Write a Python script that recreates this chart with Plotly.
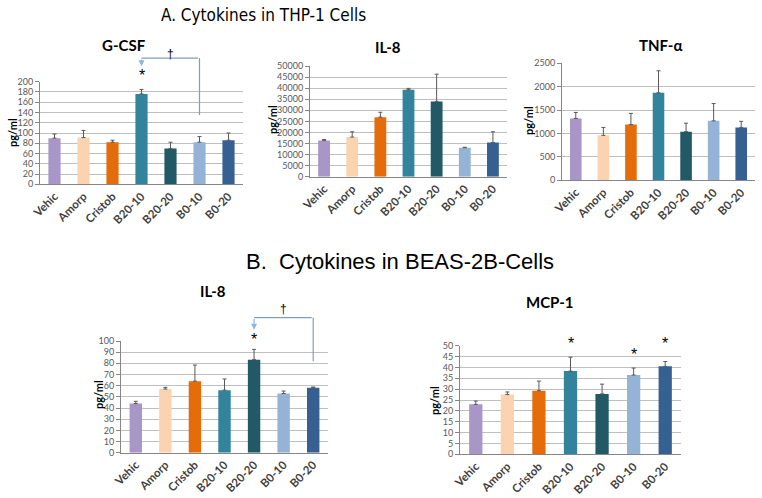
import plotly.graph_objects as go

categories = ["Vehic", "Amorp", "Cristob", "B20-10", "B20-20", "B0-10", "B0-20"]
bar_colors = ["#a897c6", "#fbd3b0", "#e46c0a", "#31849b", "#215967", "#95b3d7", "#376092"]

# THP-1 cells
gcsf = [90, 91, 82, 176, 70, 82, 86]
gcsf_top = [98, 105, 86, 185, 82, 93, 100]
il8_thp = [16300, 17900, 26900, 39300, 34000, 13100, 15400]
il8_thp_top = [16800, 20300, 29100, 39900, 46300, 13300, 20300]
tnf = [1320, 960, 1190, 1870, 1040, 1270, 1130]
tnf_top = [1450, 1130, 1430, 2340, 1220, 1640, 1260]
# BEAS-2B cells
il8_beas = [44, 57, 64, 56, 83.3, 53, 58.2]
il8_beas_top = [46, 58.5, 78.5, 66, 92.5, 55.2, 58.8]
mcp1 = [23, 27.5, 29.3, 38.3, 27.8, 36.5, 40.5]
mcp1_top = [24.5, 28.7, 33.7, 44.7, 32.3, 39.7, 42.7]

W, H = 762, 498

def px_x(v):
    return v / W

def px_y(v):
    return 1 - v / H

panels = [
    dict(name="G-CSF", v=gcsf, t=gcsf_top, ymax=200, dtick=20, xd=(40, 243), yd=(184.3, 81.7), title=(124, 45), ylab=(12, 133)),
    dict(name="IL-8", v=il8_thp, t=il8_thp_top, ymax=50000, dtick=5000, xd=(310, 507), yd=(176.7, 66), title=(388, 47), ylab=(272, 120)),
    dict(name="TNF-α", v=tnf, t=tnf_top, ymax=2500, dtick=500, xd=(562, 755), yd=(180.3, 63.3), title=(660, 45), ylab=(528, 121)),
    dict(name="IL-8", v=il8_beas, t=il8_beas_top, ymax=100, dtick=10, xd=(121, 328), yd=(452.7, 341), title=(213, 291), ylab=(98, 395)),
    dict(name="MCP-1", v=mcp1, t=mcp1_top, ymax=50, dtick=5, xd=(460, 681), yd=(454.3, 345.7), title=(550, 302), ylab=(434, 400)),
]

fig = go.Figure()
annotations = []
lato = "Lato, Carlito, Calibri, sans-serif"
tick_font = dict(family=lato, size=9, color="#595959")
xtick_font = dict(family=lato, size=11.5, color="#3f3f3f", weight="bold")

for i, p in enumerate(panels, start=1):
    sfx = "" if i == 1 else str(i)
    fig.add_trace(go.Bar(
        x=categories, y=p["v"],
        marker=dict(color=bar_colors, line=dict(width=0)),
        width=0.42,
        error_y=dict(type="data", symmetric=False,
                     array=[t - v for t, v in zip(p["t"], p["v"])],
                     arrayminus=[0] * len(p["v"]),
                     color="#595959", thickness=1, width=2),
        xaxis="x" + sfx, yaxis="y" + sfx, showlegend=False,
    ))
    fig.layout["xaxis" + sfx] = dict(
        domain=[px_x(p["xd"][0]), px_x(p["xd"][1])], anchor="y" + sfx,
        type="category", tickangle=-45, tickfont=xtick_font,
        showline=True, linecolor="#868686", linewidth=1, ticks="",
        showgrid=False, fixedrange=True, automargin=False,
    )
    fig.layout["yaxis" + sfx] = dict(
        domain=[px_y(p["yd"][0]), px_y(p["yd"][1])], anchor="x" + sfx,
        range=[0, p["ymax"]], dtick=p["dtick"], tick0=0, tickformat="d",
        tickfont=tick_font, showline=True, linecolor="#868686", linewidth=1,
        ticks="outside", ticklen=4, tickcolor="#868686",
        showgrid=True, gridcolor="#bfbfbf", gridwidth=1, zeroline=False,
        fixedrange=True, automargin=False,
    )
    # invisible taller axis with the same scale, for marks drawn above the plot area
    top_ext = p["yd"][1] - 45
    ext_max = p["ymax"] * (p["yd"][0] - top_ext) / (p["yd"][0] - p["yd"][1])
    fig.layout["yaxis" + str(10 + i)] = dict(
        domain=[px_y(p["yd"][0]), px_y(top_ext)], anchor="x" + sfx,
        range=[0, ext_max], visible=False, fixedrange=True, automargin=False,
        showgrid=False, zeroline=False,
    )
    annotations.append(dict(
        text="<b>%s</b>" % p["name"], xref="paper", yref="paper",
        x=px_x(p["title"][0]), y=px_y(p["title"][1]), showarrow=False,
        xanchor="center", yanchor="middle",
        font=dict(family=lato, size=15, color="#000000"),
    ))
    annotations.append(dict(
        text="<b>pg/ml</b>", xref="paper", yref="paper", textangle=-90,
        x=px_x(p["ylab"][0]), y=px_y(p["ylab"][1]), showarrow=False,
        xanchor="center", yanchor="middle",
        font=dict(family=lato, size=11, color="#000000"),
    ))

# main titles
annotations.append(dict(
    text="A. Cytokines in THP-1 Cells", xref="paper", yref="paper",
    x=px_x(263), y=px_y(15), showarrow=False, xanchor="center", yanchor="middle",
    font=dict(family="Liberation Sans Narrow, DejaVu Sans Condensed, Liberation Sans, sans-serif",
              size=17, color="#000000"),
))
annotations.append(dict(
    text="B.  Cytokines in BEAS-2B-Cells", xref="paper", yref="paper",
    x=px_x(400), y=px_y(261), showarrow=False, xanchor="center", yanchor="middle",
    font=dict(family="Liberation Sans, Arial, sans-serif", size=22, color="#000000"),
))

line_col = "#7f9fbf"
arrow_col = "#8eb4e3"
star_font = dict(family="Liberation Sans, Arial, sans-serif", size=16, color="#000000")
dag_font = dict(family="Liberation Sans, Arial, sans-serif", size=12, color="#000000")

def bracket(i, x_from, x_to, y_low, y_top, y_arrow, dag_x, dag_y):
    xr = "x" if i == 1 else "x" + str(i)
    yr = "y" + str(10 + i)
    ci_from = categories.index(x_from)
    ci_to = categories.index(x_to)
    annotations.append(dict(x=ci_from, y=y_top, ax=ci_from, ay=y_low, xref=xr, yref=yr,
                            axref=xr, ayref=yr, showarrow=True, arrowhead=0,
                            arrowwidth=1.2, arrowcolor=line_col, text=""))
    annotations.append(dict(x=ci_to, y=y_top, ax=ci_from, ay=y_top, xref=xr, yref=yr,
                            axref=xr, ayref=yr, showarrow=True, arrowhead=0,
                            arrowwidth=1.2, arrowcolor=line_col, text=""))
    annotations.append(dict(x=ci_to, y=y_arrow, ax=ci_to, ay=y_top, xref=xr, yref=yr,
                            axref=xr, ayref=yr, showarrow=True, arrowhead=2,
                            arrowsize=1, arrowwidth=1.2, arrowcolor=arrow_col, text=""))
    annotations.append(dict(x=categories.index(dag_x), y=dag_y, xref=xr, yref=yr,
                            text="†", showarrow=False, font=dag_font))

def star(i, cat, y):
    xr = "x" if i == 1 else "x" + str(i)
    annotations.append(dict(x=categories.index(cat), y=y, xref=xr, yref="y" + str(10 + i),
                            text="*", showarrow=False, font=star_font, yanchor="middle"))

bracket(1, "B0-10", "B20-10", 132, 246, 230, "B20-20", 254)
star(1, "B20-10", 212)
bracket(4, "B0-20", "B20-20", 80.6, 121, 110, "B0-10", 129)
star(4, "B20-20", 101)
star(5, "B20-10", 51)
star(5, "B0-10", 46)
star(5, "B0-20", 51)

fig.update_layout(
    width=W, height=H, margin=dict(l=0, r=0, t=0, b=0),
    paper_bgcolor="white", plot_bgcolor="rgba(0,0,0,0)",
    annotations=annotations, bargap=0.5,
)

fig.write_html("out.html", config={"displayModeBar": False},
               post_script="document.body.style.margin='0';document.body.style.padding='0';")
